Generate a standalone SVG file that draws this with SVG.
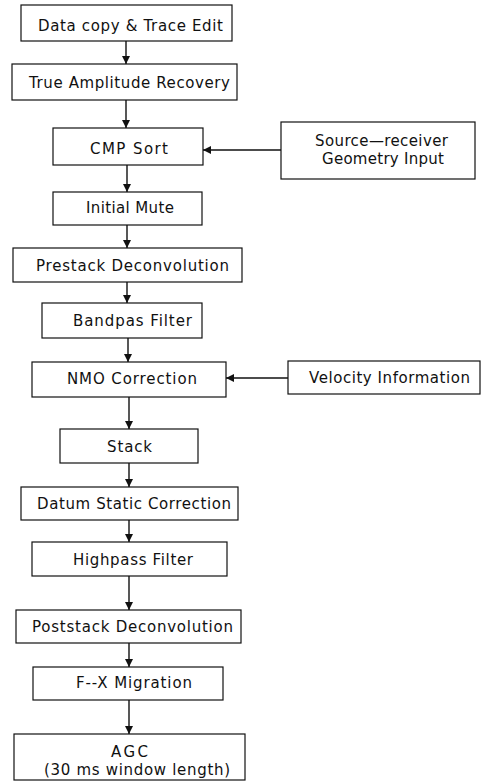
<svg xmlns="http://www.w3.org/2000/svg" width="481" height="782" viewBox="0 0 481 782">
<style>
.box{fill:#fff;stroke:#111;stroke-width:1.2}
.t{font-family:"DejaVu Sans","Liberation Sans",Arial,sans-serif;font-size:15px;fill:#111}
.c{stroke:#111;stroke-width:1.4;fill:none}
</style>
<defs>
<marker id="ah" viewBox="0 0 8 8" refX="8" refY="4" markerWidth="8" markerHeight="8" markerUnits="userSpaceOnUse" orient="auto">
<path d="M0,0 L8,4 L0,8 Z" fill="#111"/>
</marker>
</defs>
<rect width="481" height="782" fill="#fff"/>
<g id="connectors">
<line class="c" x1="126" y1="41" x2="126" y2="64" marker-end="url(#ah)"/>
<line class="c" x1="126" y1="100" x2="126" y2="128" marker-end="url(#ah)" stroke-width="1.8"/>
<line class="c" x1="281" y1="150" x2="203" y2="150" marker-end="url(#ah)"/>
<line class="c" x1="127" y1="165" x2="127" y2="192" marker-end="url(#ah)"/>
<line class="c" x1="127" y1="225" x2="127" y2="248" marker-end="url(#ah)"/>
<line class="c" x1="127" y1="282" x2="127" y2="303" marker-end="url(#ah)"/>
<line class="c" x1="128" y1="338" x2="128" y2="362" marker-end="url(#ah)"/>
<line class="c" x1="288" y1="378" x2="226" y2="378" marker-end="url(#ah)"/>
<line class="c" x1="129" y1="397" x2="129" y2="429" marker-end="url(#ah)" stroke-width="1.8"/>
<line class="c" x1="129" y1="463" x2="129" y2="487" marker-end="url(#ah)"/>
<line class="c" x1="129" y1="520" x2="129" y2="542" marker-end="url(#ah)"/>
<line class="c" x1="129" y1="576" x2="129" y2="610" marker-end="url(#ah)" stroke-width="1.8"/>
<line class="c" x1="129" y1="643" x2="129" y2="667" marker-end="url(#ah)"/>
<line class="c" x1="129" y1="700" x2="129" y2="734" marker-end="url(#ah)"/>
</g>
<g id="n1"><rect class="box" x="21" y="5" width="211" height="36"/><text class="t" x="38" y="31" textLength="185" lengthAdjust="spacing">Data copy &amp; Trace Edit</text></g>
<g id="n2"><rect class="box" x="12" y="64" width="225" height="36"/><text class="t" x="29" y="88" textLength="201" lengthAdjust="spacing">True Amplitude Recovery</text></g>
<g id="n3"><rect class="box" x="53" y="128" width="150" height="37"/><text class="t" x="90" y="154" textLength="78" lengthAdjust="spacing">CMP Sort</text></g>
<g id="n4"><rect class="box" x="281" y="122" width="194" height="57"/><text class="t" x="315" y="146" textLength="133" lengthAdjust="spacing">Source—receiver</text><text class="t" x="322" y="164" textLength="122" lengthAdjust="spacing">Geometry Input</text></g>
<g id="n5"><rect class="box" x="53" y="192" width="149" height="33"/><text class="t" x="86" y="213" textLength="88" lengthAdjust="spacing">Initial Mute</text></g>
<g id="n6"><rect class="box" x="13" y="248" width="229" height="34"/><text class="t" x="36" y="271" textLength="193" lengthAdjust="spacing">Prestack Deconvolution</text></g>
<g id="n7"><rect class="box" x="42" y="303" width="160" height="35"/><text class="t" x="73" y="326" textLength="119" lengthAdjust="spacing">Bandpas Filter</text></g>
<g id="n8"><rect class="box" x="32" y="362" width="194" height="35"/><text class="t" x="67" y="384" textLength="130" lengthAdjust="spacing">NMO Correction</text></g>
<g id="n9"><rect class="box" x="288" y="361" width="192" height="33"/><text class="t" x="309" y="383" textLength="161" lengthAdjust="spacing">Velocity Information</text></g>
<g id="n10"><rect class="box" x="60" y="429" width="138" height="34"/><text class="t" x="107" y="452" textLength="45" lengthAdjust="spacing">Stack</text></g>
<g id="n11"><rect class="box" x="21" y="487" width="217" height="33"/><text class="t" x="37" y="509" textLength="194" lengthAdjust="spacing">Datum Static Correction</text></g>
<g id="n12"><rect class="box" x="32" y="542" width="195" height="34"/><text class="t" x="73" y="565" textLength="120" lengthAdjust="spacing">Highpass Filter</text></g>
<g id="n13"><rect class="box" x="16" y="610" width="225" height="33"/><text class="t" x="32" y="632" textLength="201" lengthAdjust="spacing">Poststack Deconvolution</text></g>
<g id="n14"><rect class="box" x="33" y="667" width="190" height="33"/><text class="t" x="76" y="688" textLength="116" lengthAdjust="spacing">F--X Migration</text></g>
<g id="n15"><rect class="box" x="14" y="734" width="231" height="46"/><text class="t" x="111" y="757" textLength="37" lengthAdjust="spacing">AGC</text><text class="t" x="44" y="775" textLength="186" lengthAdjust="spacing">(30 ms window length)</text></g>
</svg>
